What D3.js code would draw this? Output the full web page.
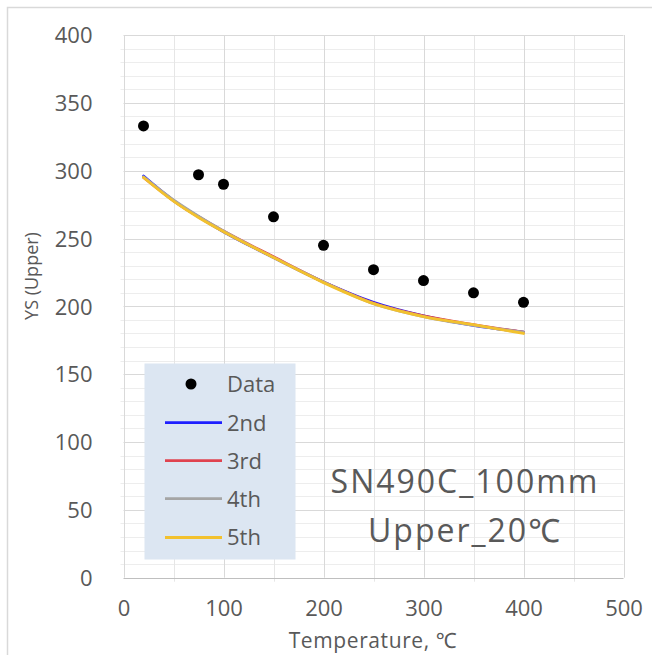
<!DOCTYPE html>
<html>
<head>
<meta charset="utf-8">
<script src="https://cdn.jsdelivr.net/npm/d3@7"></script>
<style>
  html, body { margin: 0; padding: 0; background: #fff; }
  svg { display: block; font-family: "Open Sans", "Noto Sans", sans-serif; }
</style>
</head>
<body>
<svg id="chart" width="652" height="655"></svg>
<script>
// Measured yield strength (upper) by temperature
const tempData = [20, 75, 100, 150, 200, 250, 300, 350, 400];
const ysData   = [333, 297, 290, 266, 245, 227, 219, 210, 203];

// Polynomial fits of increasing order, evaluated at these temperatures
const fitTemps = [20, 50, 75, 100, 150, 200, 250, 300, 350, 400];
const fit2nd = [296, 278, 266, 255, 236, 218, 203, 193, 186, 181];
const fit3rd = [295, 278, 266, 255.5, 236.5, 218, 202.5, 193, 186.5, 181];
const fit4th = [295.5, 278.5, 266.5, 255.5, 236, 218, 202, 192.5, 186, 181];
const fit5th = [295, 277.5, 265.5, 255, 236, 217.5, 202, 192.5, 186.5, 180];

const seriesNames  = ["2nd", "3rd", "4th", "5th"];
const seriesValues = [fit2nd, fit3rd, fit4th, fit5th];
const seriesColors = ["#1f1fff", "#e0434f", "#a5a5a5", "#f2c12e"];

const xTicks = [0, 100, 200, 300, 400, 500];
const yTicks = [0, 50, 100, 150, 200, 250, 300, 350, 400];

const svg = d3.select("#chart");
const textColor = "#595959";

// outer chart frame
svg.append("rect")
  .attr("x", 7.5).attr("y", 7.5)
  .attr("width", 700).attr("height", 700)
  .attr("fill", "#fff").attr("stroke", "#d9d9d9").attr("stroke-width", 1.5);

const x = d3.scaleLinear().domain([0, 500]).range([123.5, 623.5]);
const y = d3.scaleLinear().domain([0, 400]).range([577.7, 35]);

const grid = svg.append("g");

// minor horizontal gridlines every 10
grid.selectAll(".hmin").data(d3.range(0, 401, 10).filter(v => v % 50 !== 0))
  .join("line")
  .attr("x1", x(0) - 3).attr("x2", x(500))
  .attr("y1", d => Math.round(y(d)) + 0.5).attr("y2", d => Math.round(y(d)) + 0.5)
  .attr("stroke", "#ededed");

// minor vertical gridlines every 50
grid.selectAll(".vmin").data([50, 150, 250, 350, 450])
  .join("line")
  .attr("x1", d => Math.round(x(d)) + 0.5).attr("x2", d => Math.round(x(d)) + 0.5)
  .attr("y1", y(400)).attr("y2", y(0) + 4)
  .attr("stroke", "#e6e6e6");

// major horizontal gridlines every 50
grid.selectAll(".hmaj").data(yTicks)
  .join("line")
  .attr("x1", x(0)).attr("x2", x(500))
  .attr("y1", d => Math.round(y(d)) + 0.5).attr("y2", d => Math.round(y(d)) + 0.5)
  .attr("stroke", d => d === 0 ? "#bfbfbf" : "#d9d9d9");

// major vertical gridlines every 100
grid.selectAll(".vmaj").data(xTicks)
  .join("line")
  .attr("x1", d => Math.round(x(d)) + 0.5).attr("x2", d => Math.round(x(d)) + 0.5)
  .attr("y1", y(400)).attr("y2", y(0))
  .attr("stroke", "#d9d9d9");

// axis tick labels via d3 axes (domain and tick lines hidden)
const xAxis = svg.append("g")
  .attr("transform", `translate(0,${y(0)})`)
  .call(d3.axisBottom(x).tickValues(xTicks).tickSize(0).tickPadding(23));
const yAxis = svg.append("g")
  .attr("transform", `translate(${x(0)},0)`)
  .call(d3.axisLeft(y).tickValues(yTicks).tickSize(0).tickPadding(31));
[xAxis, yAxis].forEach(a => {
  a.select(".domain").remove();
  a.selectAll("text").attr("fill", textColor).style("font-size", "22px")
    .style("font-family", "'Open Sans', sans-serif");
});
yAxis.selectAll("text").attr("dy", "0.35em");

// axis titles
svg.append("text")
  .attr("x", 373).attr("y", 648)
  .attr("text-anchor", "middle").attr("fill", textColor)
  .style("font-size", "21px")
  .style("letter-spacing", "0.6px")
  .text("Temperature, \u2103");

svg.append("text")
  .attr("transform", "translate(38,276) rotate(-90)")
  .attr("text-anchor", "middle").attr("fill", textColor)
  .style("font-size", "18px")
  .text("YS (Upper)");

// fitted curves
const line = d3.line()
  .x((d, i) => x(fitTemps[i]))
  .y(d => y(d))
  .curve(d3.curveMonotoneX);

svg.append("g").selectAll("path").data(seriesValues)
  .join("path")
  .attr("d", d => line(d))
  .attr("fill", "none")
  .attr("stroke", (d, i) => seriesColors[i])
  .attr("stroke-width", 2.8)
  .attr("stroke-linecap", "round");

// measured data points
svg.append("g").selectAll("circle").data(ysData)
  .join("circle")
  .attr("cx", (d, i) => x(tempData[i]))
  .attr("cy", d => y(d))
  .attr("r", 5.5)
  .attr("fill", "#000");

// legend
const legend = svg.append("g");
legend.append("rect")
  .attr("x", 144.5).attr("y", 363.5)
  .attr("width", 151).attr("height", 196)
  .attr("fill", "#dce6f2");

const legendRows = [384, 422.7, 460.7, 498.7, 537.5];
legend.append("circle")
  .attr("cx", 191).attr("cy", legendRows[0]).attr("r", 5.5).attr("fill", "#000");
legend.selectAll("line").data(seriesNames)
  .join("line")
  .attr("x1", 165).attr("x2", 222)
  .attr("y1", (d, i) => legendRows[i + 1]).attr("y2", (d, i) => legendRows[i + 1])
  .attr("stroke", (d, i) => seriesColors[i])
  .attr("stroke-width", 2.8);
legend.selectAll("text").data(["Data", ...seriesNames])
  .join("text")
  .attr("x", 227).attr("y", (d, i) => legendRows[i])
  .attr("dy", "0.36em")
  .attr("fill", textColor)
  .style("font-size", "22px")
  .text(d => d);

// annotation
const note = svg.append("g").attr("fill", textColor).attr("text-anchor", "middle")
  .style("font-size", "32px").style("letter-spacing", "2px");
note.append("text").attr("x", 465).attr("y", 493).text("SN490C_100mm");
note.append("text").attr("x", 465).attr("y", 542).text("Upper_20\u2103");
</script>
</body>
</html>
